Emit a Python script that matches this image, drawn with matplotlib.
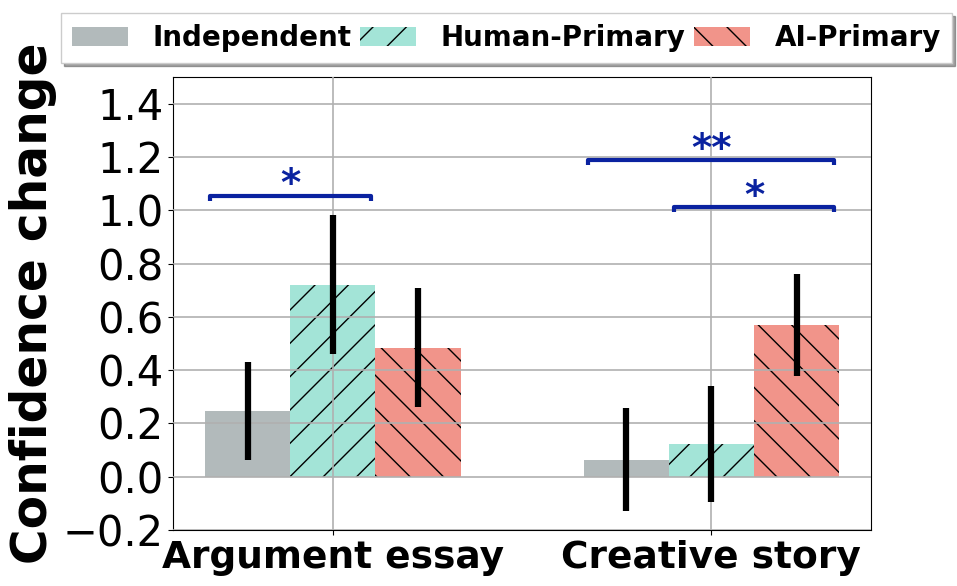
import matplotlib
matplotlib.use("Agg")
import matplotlib.pyplot as plt
import numpy as np

# data
tasks = ["Argument essay", "Creative story"]
conditions = ["Independent", "Human-Primary", "AI-Primary"]
independent = [0.245, 0.063]
human_primary = [0.72, 0.123]
ai_primary = [0.484, 0.568]
independent_err = [0.184, 0.193]
human_primary_err = [0.261, 0.219]
ai_primary_err = [0.223, 0.191]

# significance brackets: (task index, bar a, bar b, y level, label)
sig_task = [0, 1, 1]
sig_a = [0, 0, 1]
sig_b = [1, 2, 2]
sig_y = [1.054, 1.188, 1.011]
sig_label = ["*", "**", "*"]

colors = ["#B2BABB", "#A3E4D7", "#F1948A"]
hatches = ["", "/", "\\"]
sig_color = "#0A22A0"

fig = plt.figure(figsize=(9.57, 5.86), dpi=100)
ax = fig.add_axes([0.181, 0.0956, 0.729, 0.773])

x = np.arange(len(tasks))
width = 0.225
means = [independent, human_primary, ai_primary]
errs = [independent_err, human_primary_err, ai_primary_err]

for i in range(3):
    pos = x + (i - 1) * width
    ax.bar(pos, means[i], width, color=colors[i], hatch=hatches[i],
           edgecolor="black", linewidth=0, label=conditions[i])
    ax.errorbar(pos, means[i], yerr=errs[i], fmt="none", ecolor="black",
                elinewidth=4.5, capsize=0, zorder=3)

# brackets
tick = 0.018
for t, a, b, yv, lab in zip(sig_task, sig_a, sig_b, sig_y, sig_label):
    xa = x[t] + (a - 1) * width - 0.1
    xb = x[t] + (b - 1) * width + 0.1
    ax.plot([xa, xa, xb, xb], [yv - tick, yv, yv, yv - tick], color=sig_color,
            linewidth=3, zorder=4, solid_capstyle="butt")
    ax.text((xa + xb) / 2, yv - 0.032, lab, ha="center", va="bottom",
            fontsize=28, fontweight="bold", color=sig_color)

ax.set_ylim(-0.2, 1.5)
ax.set_yticks(np.arange(-0.2, 1.41, 0.2))
ax.set_yticklabels([f"{v:.1f}".replace("-", "\u2212") for v in np.arange(-0.2, 1.41, 0.2)],
                   fontsize=30)
ax.set_xticks(x)
ax.set_xticklabels(tasks, fontsize=27, fontweight="bold")
ax.set_ylabel("Confidence change", fontsize=35, fontweight="bold")
ax.grid(True, color="#b0b0b0", linewidth=1.2)
ax.set_axisbelow(False)

ax.legend(loc="lower center", bbox_to_anchor=(0.478, 1.03), ncol=3,
          prop={"size": 20, "weight": "bold"}, fancybox=False, shadow=True,
          framealpha=1, edgecolor="#cccccc", borderaxespad=0,
          columnspacing=0.3, handletextpad=0.9)

plt.savefig("out.png", dpi=100)
